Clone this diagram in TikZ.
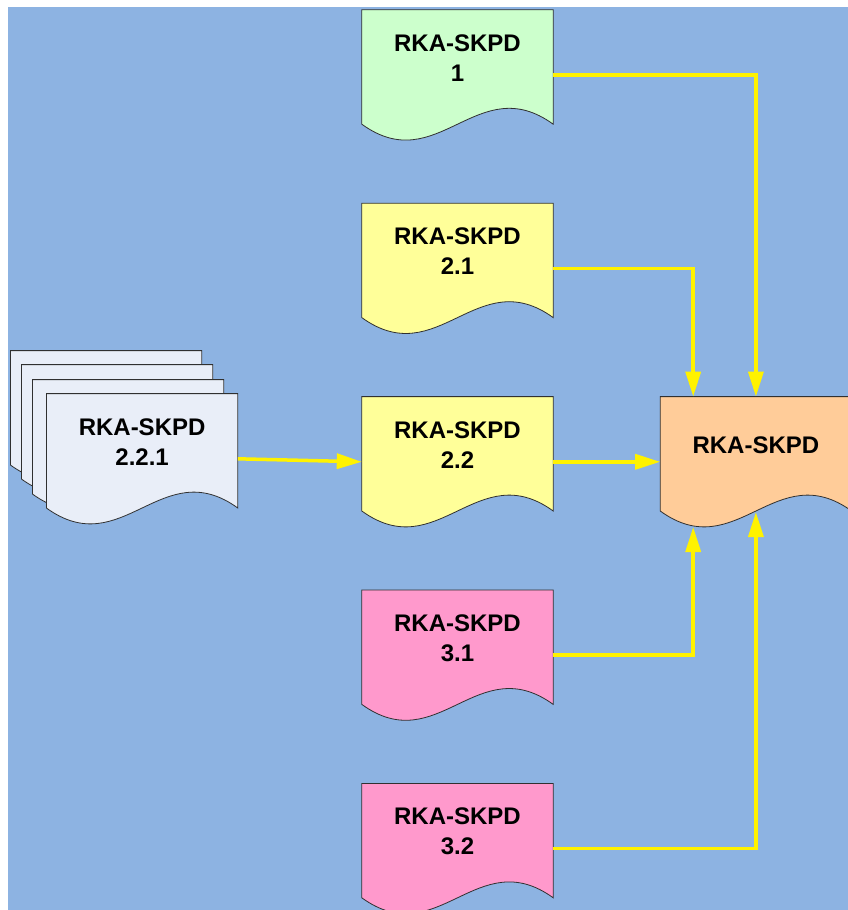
\documentclass[tikz,border=0pt]{standalone}
\usepackage{fontspec}
\setmainfont{Liberation Sans}
\usetikzlibrary{arrows.meta,positioning,calc}
\pgfdeclarelayer{back}
\pgfdeclarelayer{paper}
\pgfsetlayers{back,paper,main}
\definecolor{bgblue}{HTML}{8DB3E2}
\definecolor{docgreen}{HTML}{CCFFCC}
\definecolor{docyellow}{HTML}{FFFF99}
\definecolor{docpink}{HTML}{FF99CC}
\definecolor{docorange}{HTML}{FFCC99}
\definecolor{docgrey}{HTML}{E9EEF8}
\definecolor{edgegrey}{HTML}{303030}
\tikzset{
  doc/.style={rectangle, inner sep=0pt, minimum width=191pt, minimum height=130pt},
  txt/.style={font=\fontsize{24}{30}\selectfont\bfseries, align=center, yshift=17pt},
  flow/.style={-{Triangle[length=25pt,width=15pt]}, line width=3.5pt, draw=yellow},
}
% page shape with wavy bottom, drawn behind the texts
\newcommand\docshape[2]{%
  \begin{pgfonlayer}{paper}
  \filldraw[fill=#2, draw=edgegrey, line width=0.8pt] (#1.north west) -- (#1.north east)
    -- ([yshift=16pt]#1.south east)
    .. controls ([xshift=-76pt,yshift=71pt]#1.south east) and ([xshift=76pt,yshift=-39pt]#1.south west)
    .. ([yshift=16pt]#1.south west) -- cycle;
  \end{pgfonlayer}}

\begin{document}
\begin{tikzpicture}[x=1pt, y=-1pt]
  \useasboundingbox (0,0) rectangle (848,910);
  \begin{pgfonlayer}{back}
    \fill[bgblue] (8,7) rectangle (848,910);
  \end{pgfonlayer}

  \node[doc, label={[txt]center:{RKA-SKPD\\1}}] (d1) at (457.5,75) {};
  \node[doc, below=63pt of d1, label={[txt]center:{RKA-SKPD\\2.1}}] (d21) {};
  \node[doc, below=63pt of d21, label={[txt]center:{RKA-SKPD\\2.2}}] (d22) {};
  \node[doc, below=63pt of d22, label={[txt]center:{RKA-SKPD\\3.1}}] (d31) {};
  \node[doc, below=63pt of d31, label={[txt]center:{RKA-SKPD\\3.2}}] (d32) {};
  \node[doc, right=107pt of d22, label={[txt]center:{RKA-SKPD}}] (main) {};
  \node[doc, left=124pt of d22, yshift=3pt, label={[txt]center:{RKA-SKPD\\2.2.1}}] (d221) {};
  \node[doc] (s3) at ([xshift=-14pt,yshift=14pt]d221.center) {};
  \node[doc] (s2) at ([xshift=-25pt,yshift=29pt]d221.center) {};
  \node[doc] (s1) at ([xshift=-36pt,yshift=43pt]d221.center) {};

  \docshape{d1}{docgreen}
  \docshape{d21}{docyellow}
  \docshape{d22}{docyellow}
  \docshape{d31}{docpink}
  \docshape{d32}{docpink}
  \docshape{main}{docorange}
  \docshape{s1}{docgrey}
  \docshape{s2}{docgrey}
  \docshape{s3}{docgrey}
  \docshape{d221}{docgrey}

  \draw[flow] (d1.east) -| (main.north);
  \draw[flow] (d21.east) -| ([xshift=33pt]main.north west);
  \draw[flow] (d22.east) -- (main.west);
  \draw[flow] (d31.east) -| ([xshift=33pt]main.south west);
  \draw[flow] (d32.east) -| ([yshift=15pt]main.south);
  \draw[flow] (d221.east) -- (d22.west);
\end{tikzpicture}
\end{document}
